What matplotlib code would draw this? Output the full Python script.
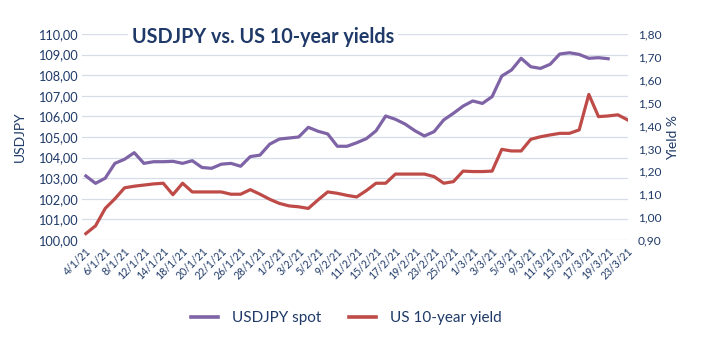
import matplotlib
matplotlib.use("Agg")
import matplotlib.pyplot as plt
from matplotlib.lines import Line2D
from matplotlib.ticker import FuncFormatter, MultipleLocator
import numpy as np

dates = ["4/1/21", "5/1/21", "6/1/21", "7/1/21", "8/1/21", "11/1/21", "12/1/21", "13/1/21",
         "14/1/21", "15/1/21", "18/1/21", "19/1/21", "20/1/21", "21/1/21", "22/1/21", "25/1/21",
         "26/1/21", "27/1/21", "28/1/21", "29/1/21", "1/2/21", "2/2/21", "3/2/21", "4/2/21",
         "5/2/21", "8/2/21", "9/2/21", "10/2/21", "11/2/21", "12/2/21", "15/2/21", "16/2/21",
         "17/2/21", "18/2/21", "19/2/21", "22/2/21", "23/2/21", "24/2/21", "25/2/21", "26/2/21",
         "1/3/21", "2/3/21", "3/3/21", "4/3/21", "5/3/21", "8/3/21", "9/3/21", "10/3/21",
         "11/3/21", "12/3/21", "15/3/21", "16/3/21", "17/3/21", "18/3/21", "19/3/21", "22/3/21",
         "23/3/21"]

usdjpy = [103.11, 102.75, 103.00, 103.72, 103.92, 104.24, 103.72, 103.80, 103.80, 103.82,
          103.72, 103.85, 103.52, 103.48, 103.68, 103.72, 103.58, 104.05, 104.12, 104.65,
          104.90, 104.95, 105.00, 105.47, 105.28, 105.15, 104.55, 104.55, 104.72, 104.92,
          105.30, 106.02, 105.86, 105.63, 105.31, 105.05, 105.26, 105.83, 106.15, 106.50,
          106.75, 106.63, 106.96, 107.96, 108.25, 108.82, 108.41, 108.33, 108.53, 109.03,
          109.09, 109.01, 108.82, 108.85, 108.80, None, None]

yield10 = [0.928, 0.962, 1.038, 1.080, 1.128, 1.135, 1.140, 1.145, 1.148, 1.098,
           1.148, 1.110, 1.110, 1.110, 1.110, 1.100, 1.100, 1.120, 1.100, 1.078,
           1.060, 1.049, 1.045, 1.038, 1.075, 1.110, 1.104, 1.095, 1.088, 1.116,
           1.148, 1.148, 1.188, 1.188, 1.188, 1.188, 1.177, 1.148, 1.155, 1.201,
           1.199, 1.199, 1.201, 1.296, 1.289, 1.289, 1.340, 1.351, 1.359, 1.366,
           1.366, 1.381, 1.536, 1.439, 1.442, 1.447, 1.425]

title = "USDJPY vs. US 10-year yields"
left_label = "USDJPY"
right_label = "Yield %"
legend_labels = ["USDJPY spot", "US 10-year yield"]

NAVY = "#1F3A68"
PURPLE = "#7E63A6"
RED = "#BE4B48"
GRID = "#D6DCE8"
FONT = ["Lato", "DejaVu Sans"]

plt.rcParams["font.family"] = FONT

fig = plt.figure(figsize=(7.14, 3.46), dpi=100)
W, H = 714, 346
l, r, t, b = 82, 628, 34, 240
ax = fig.add_axes([l / W, 1 - b / H, (r - l) / W, (b - t) / H])
ax2 = ax.twinx()

x = np.arange(len(dates))
uj = np.array([np.nan if v is None else v for v in usdjpy], dtype=float)
yl = np.array(yield10, dtype=float)

ax.plot(x, uj, color=PURPLE, lw=2.3, solid_joinstyle="round", zorder=3)
ax2.plot(x, yl, color=RED, lw=2.3, solid_joinstyle="round", zorder=3)

ax.set_xlim(-0.4, len(dates) - 0.95)
ax.set_ylim(100, 110)
ax2.set_ylim(0.90, 1.80)
ax.yaxis.set_major_locator(MultipleLocator(1))
ax2.yaxis.set_major_locator(MultipleLocator(0.1))
ax.yaxis.set_major_formatter(FuncFormatter(lambda v, p: f"{v:.2f}".replace(".", ",")))
ax2.yaxis.set_major_formatter(FuncFormatter(lambda v, p: f"{v:.2f}".replace(".", ",")))

ax.grid(axis="y", color=GRID, lw=0.9)
ax.set_axisbelow(True)
for a in (ax, ax2):
    for s in a.spines.values():
        s.set_visible(False)
    a.tick_params(length=0, colors=NAVY)
ax.tick_params(axis="y", pad=3, labelsize=9.2)
ax2.tick_params(axis="y", pad=7, labelsize=8.6)

ax.set_xticks(x[::2])
ax.set_xticklabels(dates[::2], rotation=45, ha="right", rotation_mode="anchor",
                   fontsize=7.6, color=NAVY)
ax.tick_params(axis="x", pad=4)

ax.set_ylabel(left_label, color=NAVY, fontsize=10, labelpad=9)
ax2.set_ylabel(right_label, color=NAVY, fontsize=10, labelpad=4, rotation=90)

fig.text(263 / W, 1 - 37 / H, title, ha="center", va="center", fontsize=14.2,
         fontweight="bold", color=NAVY,
         bbox=dict(facecolor="white", edgecolor="none", pad=3), zorder=5)

handles = [Line2D([], [], color=PURPLE, lw=2.6), Line2D([], [], color=RED, lw=2.6)]
fig.legend(handles, legend_labels, loc="center", bbox_to_anchor=(346 / W, 1 - 318 / H),
           ncol=2, frameon=False, fontsize=11, handlelength=1.8, columnspacing=1.8,
           handletextpad=0.9, labelcolor=NAVY)

fig.savefig("out.png", dpi=100, facecolor="white")
